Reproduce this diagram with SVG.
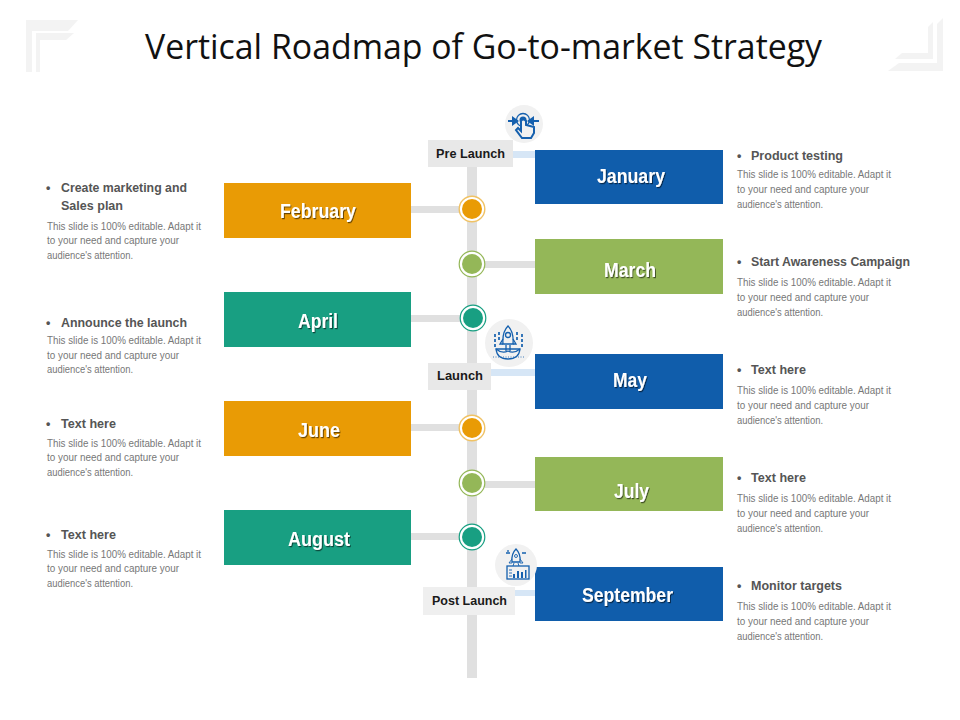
<svg xmlns="http://www.w3.org/2000/svg" width="960" height="720" viewBox="0 0 960 720">
<style>
text{font-family:"Liberation Sans",Arial,sans-serif}
.title{font-family:"Open Sans","Noto Sans",sans-serif;font-size:34px;fill:#111}
.m{font-size:20px;font-weight:700;fill:#fff;filter:url(#sh)}
.h{font-size:12.5px;font-weight:700;fill:#555}
.b{font-size:10px;fill:#777}
.tag{font-size:12.5px;font-weight:700;fill:#1a1a1a}
.conn{fill:#e0e0e0}
.lk{fill:#d6e6f6}
.ic{fill:none;stroke:#1560ae;stroke-width:1.3}
.thin{stroke-width:.9}
.bold{stroke-width:2}
.dash{stroke-width:1.7;stroke-dasharray:3 2}
.dots{stroke-width:.8;stroke-dasharray:1 1.5}
.if{fill:#1560ae}
.or{fill:#e99b05}.gr{fill:#94b758}.te{fill:#189f82}.bl{fill:#105dab}
.frame{fill:#f3f3f3}
.hand{fill:#f1f1f1;stroke:#1560ae;stroke-width:2}
</style>
<defs>
<filter id="sh" x="-10%" y="-30%" width="120%" height="170%"><feDropShadow dx="1" dy="1.2" stdDeviation=".5" flood-color="#000" flood-opacity=".55"/></filter>
<g id="dot-o"><circle r="12.8" fill="#fff" stroke="#f0c264" stroke-width="1.4"/><circle r="10" class="or"/></g>
<g id="dot-g"><circle r="12.8" fill="#fff" stroke="#94b758" stroke-width="1.2"/><circle r="10" class="gr"/></g>
<g id="dot-t"><circle r="12.8" fill="#fff" stroke="#189f82" stroke-width="1.2"/><circle r="10" class="te"/></g>
</defs>

<g id="frames">
<path class="frame" d="M26 20H78L68 31H32V72H26Z"/>
<path class="frame" d="M36 33H74L66 40H40V72H36Z"/>
<path class="frame" d="M943 18V71H888L899 63H937V24Z"/>
<path class="frame" d="M933 22V59H895L902 53H928V27Z"/>
</g>
<text class="title" x="145" y="59" textLength="677" lengthAdjust="spacingAndGlyphs">Vertical Roadmap of Go-to-market Strategy</text>

<g id="connectors">
<rect class="conn" x="467" y="160" width="10" height="518"/>
<rect class="conn" x="411" y="206" width="50" height="7"/>
<rect class="conn" x="485" y="261" width="50" height="7"/>
<rect class="conn" x="411" y="315" width="50" height="7"/>
<rect class="conn" x="411" y="424" width="50" height="7"/>
<rect class="conn" x="485" y="481" width="50" height="7"/>
<rect class="conn" x="411" y="533" width="50" height="7"/>
<rect class="lk" x="510" y="151" width="25" height="7"/>
<rect class="lk" x="490" y="369" width="45" height="7"/>
<rect class="lk" x="514" y="590" width="21" height="6"/>
</g>

<g id="feb"><rect class="or" x="224" y="183" width="187" height="55"/><text class="m" x="280" y="218" textLength="76" lengthAdjust="spacingAndGlyphs">February</text></g>
<g id="apr"><rect class="te" x="224" y="292" width="187" height="55"/><text class="m" x="298" y="328" textLength="40" lengthAdjust="spacingAndGlyphs">April</text></g>
<g id="jun"><rect class="or" x="224" y="401" width="187" height="55"/><text class="m" x="298" y="437" textLength="42" lengthAdjust="spacingAndGlyphs">June</text></g>
<g id="aug"><rect class="te" x="224" y="510" width="187" height="55"/><text class="m" x="288" y="546" textLength="62" lengthAdjust="spacingAndGlyphs">August</text></g>
<g id="jan"><rect class="bl" x="535" y="150" width="188" height="54"/><text class="m" x="597" y="183" textLength="68" lengthAdjust="spacingAndGlyphs">January</text></g>
<g id="mar"><rect class="gr" x="535" y="239" width="188" height="55"/><text class="m" x="604" y="277" textLength="52" lengthAdjust="spacingAndGlyphs">March</text></g>
<g id="may"><rect class="bl" x="535" y="354" width="188" height="55"/><text class="m" x="613" y="387" textLength="34" lengthAdjust="spacingAndGlyphs">May</text></g>
<g id="jul"><rect class="gr" x="535" y="457" width="188" height="54"/><text class="m" x="614" y="498" textLength="35" lengthAdjust="spacingAndGlyphs">July</text></g>
<g id="sep"><rect class="bl" x="535" y="567" width="188" height="54"/><text class="m" x="582" y="602" textLength="91" lengthAdjust="spacingAndGlyphs">September</text></g>

<g id="dots">
<use href="#dot-o" x="472" y="209"/>
<use href="#dot-g" x="472" y="264"/>
<use href="#dot-t" x="473" y="318"/>
<use href="#dot-o" x="472" y="428"/>
<use href="#dot-g" x="472" y="483"/>
<use href="#dot-t" x="472" y="537"/>
</g>

<g id="pre-launch"><rect x="428" y="140" width="85" height="27" fill="#e8e8e8"/><text class="tag" x="436" y="158" textLength="69" lengthAdjust="spacingAndGlyphs">Pre Launch</text></g>
<g id="launch"><rect x="428" y="363" width="63" height="27" fill="#e8e8e8"/><text class="tag" x="437" y="380" textLength="46" lengthAdjust="spacingAndGlyphs">Launch</text></g>
<g id="post-launch"><rect x="423" y="587" width="92" height="28" fill="#efefef"/><text class="tag" x="432" y="605" textLength="75" lengthAdjust="spacingAndGlyphs">Post Launch</text></g>

<g id="icon-pre">
<circle cx="524" cy="124" r="19" fill="#f1f1f1"/>
<circle class="ic" cx="523" cy="120" r="6.5"/>
<circle class="if" cx="523" cy="120" r="3.5"/>
<path class="ic bold" d="M508 121H514M532 121H539"/>
<path class="if" d="M512 116L519 121L512 126ZM534 116L527 121L534 126Z"/>
<path class="hand" d="M521 121V131L518 128L516 130L522 138H531L534 133V127L526 125V121Q523 118 521 121Z"/>
</g>

<g id="icon-launch">
<circle cx="509" cy="343" r="24" fill="#f1f1f1"/>
<path class="ic" d="M508 326Q502 332 503 344H513Q514 332 508 326Z"/>
<circle class="ic" cx="508" cy="335" r="2.5"/>
<path class="ic" d="M503 339L500 344H503M513 339L516 344H513M506 345V351M510 345V351"/>
<path class="ic" d="M496 349H520Q519 359 508 359Q497 359 496 349Z"/>
<path class="ic" d="M496 349Q502 354 508 351Q514 354 520 349"/>
<path class="ic dash" d="M495 334V349M499 332V342M517 332V342M522 334V349"/>
<path class="ic dots" d="M493 357H525"/>
</g>

<g id="icon-post">
<circle cx="516" cy="565" r="21" fill="#f1f1f1"/>
<path class="ic" d="M516 549Q511 554 512 562H520Q521 554 516 549Z"/>
<circle class="ic thin" cx="516" cy="556" r="1.5"/>
<path class="ic thin" d="M512 559L509 563H512M520 559L523 563H520M514 563L513 566M518 563L519 566"/>
<path class="ic" d="M506 553H510M522 553H526M508 550V552"/>
<rect class="ic" x="507" y="566" width="22" height="13"/>
<path class="if" d="M517 571h2v7h-2zM513 574h2v4h-2zM521 572h2v6h-2zM525 570h1.5v8H525z"/>
<path class="ic thin" d="M509 570H512M509 573H512M509 576H512"/>
</g>

<g id="note-feb">
<text class="h" x="46" y="192">•</text>
<text class="h" x="61" y="192" textLength="126" lengthAdjust="spacingAndGlyphs">Create marketing and</text>
<text class="h" x="61" y="210" textLength="62" lengthAdjust="spacingAndGlyphs">Sales plan</text>
<text class="b" x="47" y="230" textLength="154" lengthAdjust="spacingAndGlyphs">This slide is 100% editable.  Adapt it</text>
<text class="b" x="47" y="244" textLength="132" lengthAdjust="spacingAndGlyphs">to your need and capture your</text>
<text class="b" x="47" y="259" textLength="86" lengthAdjust="spacingAndGlyphs">audience's  attention.</text>
</g>
<g id="note-apr">
<text class="h" x="46" y="327">•</text>
<text class="h" x="61" y="327" textLength="126" lengthAdjust="spacingAndGlyphs">Announce the launch</text>
<text class="b" x="47" y="344" textLength="154" lengthAdjust="spacingAndGlyphs">This slide is 100% editable.  Adapt it</text>
<text class="b" x="47" y="359" textLength="132" lengthAdjust="spacingAndGlyphs">to your need and capture your</text>
<text class="b" x="47" y="373" textLength="86" lengthAdjust="spacingAndGlyphs">audience's  attention.</text>
</g>
<g id="note-jun">
<text class="h" x="46" y="428">•</text>
<text class="h" x="61" y="428" textLength="55" lengthAdjust="spacingAndGlyphs">Text here</text>
<text class="b" x="47" y="447" textLength="154" lengthAdjust="spacingAndGlyphs">This slide is 100% editable.  Adapt it</text>
<text class="b" x="47" y="461" textLength="132" lengthAdjust="spacingAndGlyphs">to your need and capture your</text>
<text class="b" x="47" y="476" textLength="86" lengthAdjust="spacingAndGlyphs">audience's  attention.</text>
</g>
<g id="note-aug">
<text class="h" x="46" y="539">•</text>
<text class="h" x="61" y="539" textLength="55" lengthAdjust="spacingAndGlyphs">Text here</text>
<text class="b" x="47" y="558" textLength="154" lengthAdjust="spacingAndGlyphs">This slide is 100% editable.  Adapt it</text>
<text class="b" x="47" y="572" textLength="132" lengthAdjust="spacingAndGlyphs">to your need and capture your</text>
<text class="b" x="47" y="587" textLength="86" lengthAdjust="spacingAndGlyphs">audience's  attention.</text>
</g>
<g id="note-jan">
<text class="h" x="737" y="160">•</text>
<text class="h" x="751" y="160" textLength="92" lengthAdjust="spacingAndGlyphs">Product testing</text>
<text class="b" x="737" y="178" textLength="154" lengthAdjust="spacingAndGlyphs">This slide is 100% editable.  Adapt it</text>
<text class="b" x="737" y="193" textLength="132" lengthAdjust="spacingAndGlyphs">to your need and capture your</text>
<text class="b" x="737" y="208" textLength="86" lengthAdjust="spacingAndGlyphs">audience's  attention.</text>
</g>
<g id="note-mar">
<text class="h" x="737" y="266">•</text>
<text class="h" x="751" y="266" textLength="159" lengthAdjust="spacingAndGlyphs">Start Awareness Campaign</text>
<text class="b" x="737" y="286" textLength="154" lengthAdjust="spacingAndGlyphs">This slide is 100% editable.  Adapt it</text>
<text class="b" x="737" y="301" textLength="132" lengthAdjust="spacingAndGlyphs">to your need and capture your</text>
<text class="b" x="737" y="316" textLength="86" lengthAdjust="spacingAndGlyphs">audience's  attention.</text>
</g>
<g id="note-may">
<text class="h" x="737" y="374">•</text>
<text class="h" x="751" y="374" textLength="55" lengthAdjust="spacingAndGlyphs">Text here</text>
<text class="b" x="737" y="394" textLength="154" lengthAdjust="spacingAndGlyphs">This slide is 100% editable.  Adapt it</text>
<text class="b" x="737" y="409" textLength="132" lengthAdjust="spacingAndGlyphs">to your need and capture your</text>
<text class="b" x="737" y="424" textLength="86" lengthAdjust="spacingAndGlyphs">audience's  attention.</text>
</g>
<g id="note-jul">
<text class="h" x="737" y="482">•</text>
<text class="h" x="751" y="482" textLength="55" lengthAdjust="spacingAndGlyphs">Text here</text>
<text class="b" x="737" y="502" textLength="154" lengthAdjust="spacingAndGlyphs">This slide is 100% editable.  Adapt it</text>
<text class="b" x="737" y="517" textLength="132" lengthAdjust="spacingAndGlyphs">to your need and capture your</text>
<text class="b" x="737" y="532" textLength="86" lengthAdjust="spacingAndGlyphs">audience's  attention.</text>
</g>
<g id="note-sep">
<text class="h" x="737" y="590">•</text>
<text class="h" x="751" y="590" textLength="91" lengthAdjust="spacingAndGlyphs">Monitor targets</text>
<text class="b" x="737" y="610" textLength="154" lengthAdjust="spacingAndGlyphs">This slide is 100% editable.  Adapt it</text>
<text class="b" x="737" y="625" textLength="132" lengthAdjust="spacingAndGlyphs">to your need and capture your</text>
<text class="b" x="737" y="640" textLength="86" lengthAdjust="spacingAndGlyphs">audience's  attention.</text>
</g>
</svg>
